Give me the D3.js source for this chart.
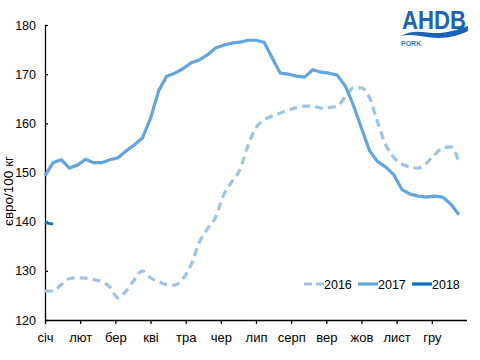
<!DOCTYPE html>
<html><head><meta charset="utf-8">
<script src="https://cdn.jsdelivr.net/npm/d3@7"></script>
<style>
html,body{margin:0;padding:0;background:#fff;}
text{font-family:"Liberation Sans",Arial,sans-serif;}
</style></head>
<body><svg id="c" width="480" height="360"></svg>
<script>
const months = ["січ","лют","бер","кві","тра","чер","лип","серп","вер","жов","лист","гру"];
const yTicks = [120,130,140,150,160,170,180];
const seriesNames = ["2016","2017","2018"];
const v2016 = [125.9,125.9,127.2,128.4,128.6,128.5,128.2,127.8,126.7,124.5,125.9,128.2,130.0,128.6,127.8,127.2,127.1,128.4,131.2,135.7,138.5,140.8,145.4,148.1,150.5,155.4,159.1,160.7,161.5,162.1,162.7,163.2,163.5,163.5,163.1,163.2,163.5,165.4,167.2,167.2,165.2,160.1,155.6,153.0,151.7,151.1,150.9,151.9,153.6,155.0,155.2,152.2];
const v2017 = [149.3,152.0,152.6,150.9,151.5,152.7,152.0,152.0,152.6,153.0,154.4,155.6,157.0,161.0,166.6,169.6,170.2,171.1,172.3,172.9,173.9,175.3,175.9,176.3,176.5,176.9,176.9,176.5,173.3,170.2,170.0,169.6,169.4,170.9,170.4,170.2,169.8,167.6,163.7,159.0,154.4,152.2,151.1,149.5,146.5,145.6,145.2,145.0,145.2,145.0,143.6,141.4];
const v2018 = [139.8,139.5];
const colors = ["#9dc3e6","#64a5da","#0a6fc0"];

const svg = d3.select("#c");
const x = d3.scaleLinear().domain([0,52]).range([45,467]);
const y = d3.scaleLinear().domain([120,180]).range([320,25]);
const weeksPerMonth = 52/12;

// y axis
const ya = svg.append("g").attr("transform","translate(45,0)")
  .call(d3.axisLeft(y).tickValues(yTicks).tickSize(-3).tickPadding(9));
ya.select(".domain").attr("stroke","#000").attr("stroke-width",1.3).attr("d","M0.5,25V320");
ya.selectAll(".tick line").attr("stroke","#000").attr("stroke-width",1.3);
ya.selectAll(".tick text").attr("font-size",12.5).attr("fill","#000");

// x axis
const xa = svg.append("g").attr("transform","translate(0,320)")
  .call(d3.axisBottom(x).tickValues(d3.range(12).map(i=>i*weeksPerMonth)).tickSize(4).tickPadding(9)
    .tickFormat((d,i)=>months[i]));
xa.select(".domain").attr("stroke","#000").attr("stroke-width",1.3).attr("d","M45,0.5H467");
xa.selectAll(".tick line").attr("stroke","#000").attr("stroke-width",1.3);
xa.selectAll(".tick text").attr("font-size",13).attr("fill","#000");

// y label
svg.append("text").attr("transform","translate(13,191) rotate(-90)")
  .attr("text-anchor","middle").attr("font-size",13.5).attr("fill","#000").text("євро/100 кг");

const line = d3.line().x((d,i)=>x(i)).y(d=>y(d));
const lineSmooth = d3.line().x((d,i)=>x(i)).y(d=>y(d)).curve(d3.curveMonotoneX);
svg.append("path").datum(v2016).attr("d",lineSmooth).attr("fill","none")
  .attr("stroke",colors[0]).attr("stroke-width",3.2).attr("stroke-dasharray","8,5");
svg.append("path").datum(v2017).attr("d",line).attr("fill","none")
  .attr("stroke",colors[1]).attr("stroke-width",3.2).attr("stroke-linejoin","round");
svg.append("path").datum(v2018).attr("d",line).attr("fill","none")
  .attr("stroke",colors[2]).attr("stroke-width",2.6);

// legend
const lx = [304,358,412];
seriesNames.forEach((n,i)=>{
  const g = svg.append("g").attr("transform",`translate(${lx[i]},284)`);
  g.append("line").attr("x1",0).attr("x2",20).attr("y1",0).attr("y2",0)
    .attr("stroke",colors[i]).attr("stroke-width",3.2)
    .attr("stroke-dasharray", i===0 ? "8,4" : null);
  g.append("text").attr("x",20).attr("y",4.5).attr("font-size",12.5).attr("fill","#000").text(n);
});

// logo
const logo = svg.append("g");
logo.append("text").attr("x",434).attr("y",29).attr("text-anchor","middle")
  .attr("font-size",25).attr("font-weight","bold").attr("fill","#1a63b5")
  .style("font-family","'Liberation Sans Narrow','Liberation Sans',Arial,sans-serif")
  .attr("textLength",64).attr("lengthAdjust","spacingAndGlyphs").text("AHDB");
logo.append("path").attr("d","M401,36 C415,28 428,34 440,33 C452,32 462,28 468,26 L468,31 C460,35 450,38 438,38 C425,38 414,33 401,36 Z")
  .attr("fill","#1a63b5");
logo.append("text").attr("x",401).attr("y",46).attr("font-size",7).attr("font-weight","bold")
  .attr("fill","#3b7cc4").text("PORK");
</script></body></html>
